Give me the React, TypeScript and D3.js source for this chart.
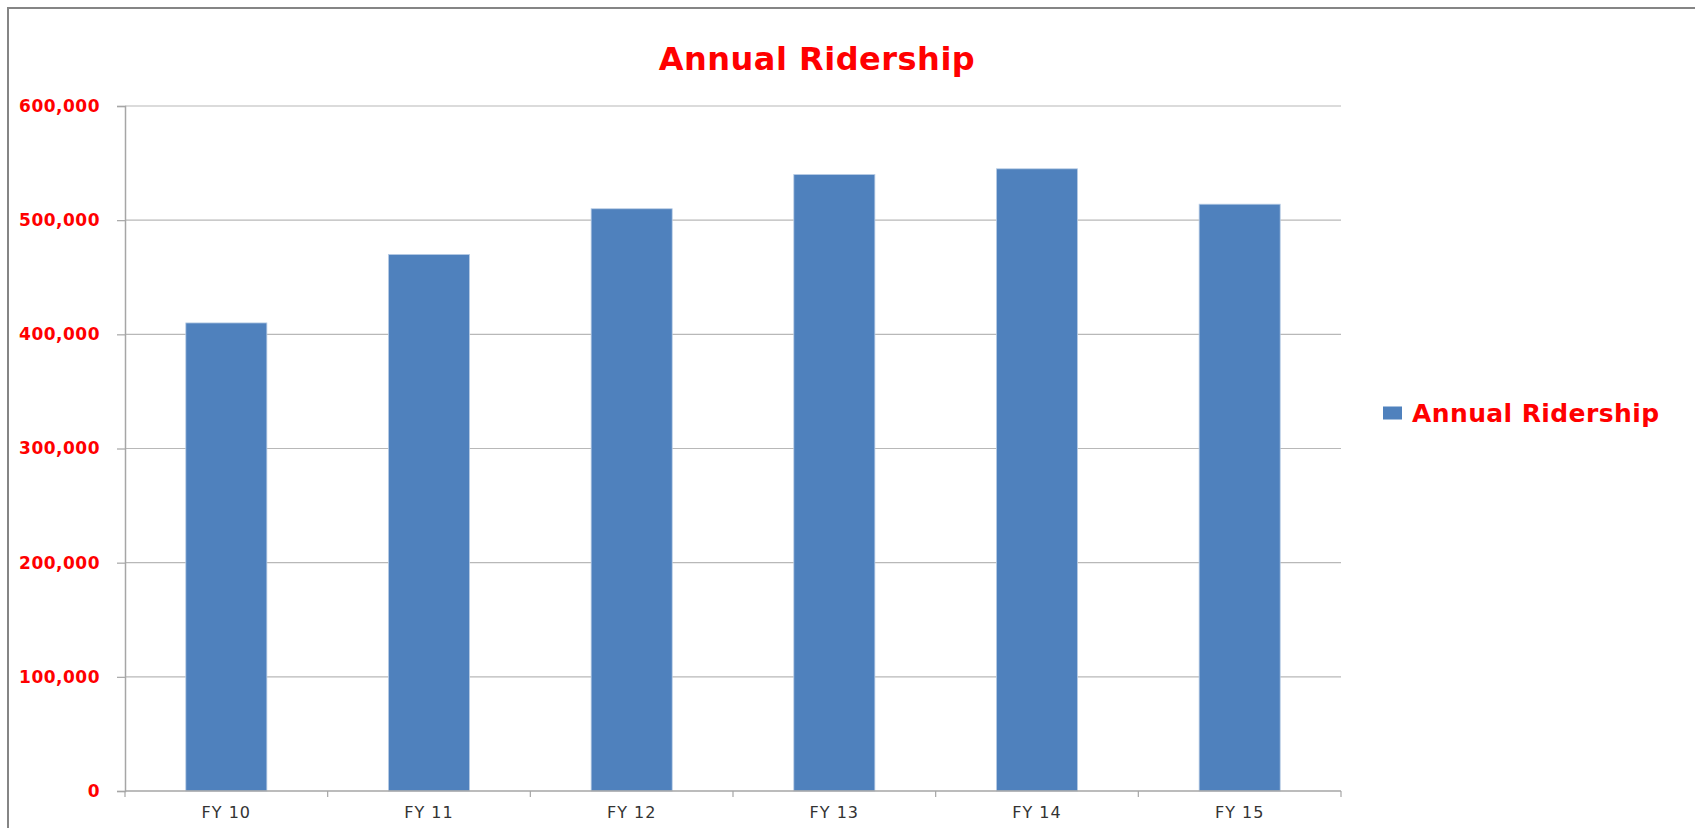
import * as React from 'react';
import {Component} from 'react';
import * as d3 from 'd3';

const categories: Array<string> = ["FY 10", "FY 11", "FY 12", "FY 13", "FY 14", "FY 15"];
const ridership: Array<number> = [410000, 470000, 510000, 540000, 545000, 514000];
const yTicks: Array<number> = [0, 100000, 200000, 300000, 400000, 500000, 600000];
const seriesName = "Annual Ridership";
const chartTitle = "Annual Ridership";

const W = 1695;
const H = 828;

class App extends Component {
    svgRef = React.createRef<SVGSVGElement>();

    componentDidMount() {
        this.drawChart();
    }

    drawChart() {
        const svg = d3.select(this.svgRef.current);
        svg.selectAll("*").remove();

        const plot = {left: 125, right: 1341, top: 106, bottom: 791};
        const font = "'DejaVu Sans', Verdana, sans-serif";

        // outer chart border (runs off the page on the right and bottom)
        svg.append("rect")
            .attr("x", 8).attr("y", 8)
            .attr("width", W + 50).attr("height", H + 50)
            .attr("fill", "#fff")
            .attr("stroke", "#858585")
            .attr("stroke-width", 2);

        const xScale = d3.scaleBand<string>()
            .domain(categories)
            .range([plot.left, plot.right])
            .paddingInner(0.6)
            .paddingOuter(0.3);

        const yScale = d3.scaleLinear()
            .domain([0, 600000])
            .range([plot.bottom, plot.top]);

        // gridlines
        svg.append("g")
            .selectAll("line")
            .data(yTicks.filter(d => d > 0))
            .enter()
            .append("line")
            .attr("x1", plot.left).attr("x2", plot.right)
            .attr("y1", d => yScale(d)).attr("y2", d => yScale(d))
            .attr("stroke", "#b8b8b8")
            .attr("stroke-width", 1.2);

        // bars
        svg.append("g")
            .selectAll("rect")
            .data(ridership)
            .enter()
            .append("rect")
            .attr("x", (d, i) => xScale(categories[i]) as number)
            .attr("y", d => yScale(d))
            .attr("width", xScale.bandwidth())
            .attr("height", d => yScale(0) - yScale(d))
            .attr("fill", "#4f81bd")
            .attr("stroke", "#b9cde5")
            .attr("stroke-width", 0.8);

        // y axis
        const yAxis = d3.axisLeft(yScale)
            .tickValues(yTicks)
            .tickSize(8)
            .tickPadding(17)
            .tickFormat(d3.format(","));

        const yg = svg.append("g")
            .attr("transform", `translate(${plot.left}, 0)`)
            .call(yAxis);
        yg.select(".domain").attr("stroke", "#a6a6a6").attr("stroke-width", 1.5);
        yg.selectAll(".tick line").attr("stroke", "#a6a6a6").attr("stroke-width", 1.2);
        yg.selectAll(".tick text")
            .attr("fill", "#ff0000")
            .attr("font-family", font)
            .attr("font-weight", "bold")
            .attr("font-size", 17)
            .attr("letter-spacing", 0.5);

        // x axis
        const step = xScale.step();
        const bounds = categories.map(c => (xScale(c) as number) - step * 0.3);
        bounds.push(plot.right);

        const xg = svg.append("g");
        xg.append("line")
            .attr("x1", plot.left).attr("x2", plot.right)
            .attr("y1", plot.bottom).attr("y2", plot.bottom)
            .attr("stroke", "#a6a6a6").attr("stroke-width", 1.5);
        xg.selectAll(".xtick")
            .data(bounds)
            .enter()
            .append("line")
            .attr("x1", d => d).attr("x2", d => d)
            .attr("y1", plot.bottom).attr("y2", plot.bottom + 6)
            .attr("stroke", "#a6a6a6").attr("stroke-width", 1.2);
        xg.selectAll(".xlabel")
            .data(categories)
            .enter()
            .append("text")
            .attr("x", d => (xScale(d) as number) + xScale.bandwidth() / 2)
            .attr("y", plot.bottom + 21)
            .attr("dy", "0.35em")
            .attr("text-anchor", "middle")
            .attr("fill", "#333")
            .attr("font-family", font)
            .attr("font-size", 16)
            .attr("letter-spacing", 1)
            .text(d => d);

        // title
        svg.append("text")
            .attr("x", 817)
            .attr("y", 70)
            .attr("text-anchor", "middle")
            .attr("fill", "#ff0000")
            .attr("font-family", font)
            .attr("font-weight", "bold")
            .attr("font-size", 32)
            .attr("letter-spacing", 0.5)
            .text(chartTitle);

        // legend
        const legend = svg.append("g").attr("transform", "translate(1383, 413)");
        legend.append("rect")
            .attr("x", 0).attr("y", -6.5)
            .attr("width", 19).attr("height", 13)
            .attr("fill", "#4f81bd");
        legend.append("text")
            .attr("x", 29)
            .attr("y", 0)
            .attr("dy", "0.35em")
            .attr("fill", "#ff0000")
            .attr("font-family", font)
            .attr("font-weight", "bold")
            .attr("font-size", 25)
            .attr("letter-spacing", 0.4)
            .text(seriesName);
    }

    render(): React.ReactNode {
        return (
            <svg ref={this.svgRef} width={W} height={H}
                 style={{position: "absolute", left: 0, top: 0, background: "#fff"}} />
        );
    }
}

export default App;
